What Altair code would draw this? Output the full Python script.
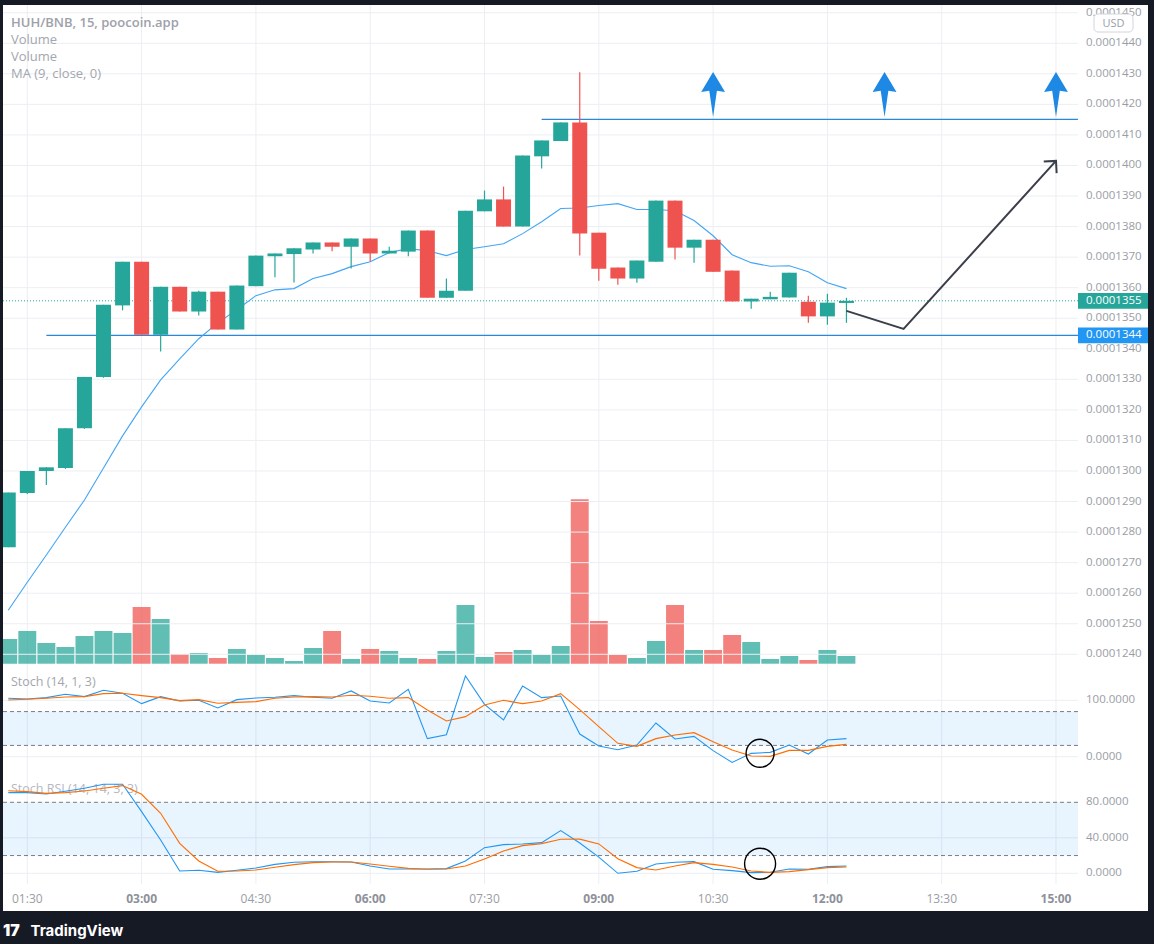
import altair as alt
import pandas as pd

# ---------------- values (prices in units of 1e-7 BNB) ----------------
first_bar = "01:15"
bar_step_min = 15

opens  = [1275.0, 1292.8, 1300.0, 1301.0, 1314.0, 1330.8, 1354.2, 1368.5, 1344.6, 1360.3,
          1352.2, 1358.7, 1346.3, 1360.5, 1370.3, 1371.0, 1372.5, 1374.8, 1373.4, 1376.1,
          1371.2, 1371.8, 1378.7, 1356.7, 1359.0, 1385.0, 1388.9, 1380.0, 1403.0, 1408.0,
          1414.1, 1378.0, 1366.6, 1363.0, 1368.5, 1388.5, 1373.1, 1375.7, 1365.6, 1355.5,
          1356.2, 1356.8, 1355.4, 1350.6, 1355.0]
highs  = [1293.0, 1300.0, 1301.2, 1314.0, 1330.8, 1354.4, 1368.5, 1368.5, 1360.3, 1360.3,
          1359.0, 1358.7, 1360.7, 1370.5, 1371.2, 1372.9, 1374.8, 1374.8, 1376.1, 1376.1,
          1373.4, 1378.7, 1378.7, 1363.0, 1385.2, 1391.8, 1393.1, 1403.3, 1408.2, 1414.1,
          1430.5, 1378.0, 1366.6, 1368.9, 1388.5, 1388.5, 1375.7, 1375.7, 1365.6, 1356.4,
          1358.7, 1364.9, 1357.4, 1358.0, 1356.7]
lows   = [1275.0, 1292.5, 1295.4, 1300.7, 1313.8, 1330.5, 1352.6, 1344.6, 1339.1, 1352.2,
          1350.9, 1346.3, 1346.3, 1360.5, 1363.4, 1361.7, 1371.2, 1371.9, 1366.3, 1368.6,
          1371.2, 1370.3, 1356.7, 1356.7, 1359.0, 1385.0, 1380.0, 1380.0, 1399.0, 1408.0,
          1370.5, 1362.3, 1361.0, 1361.6, 1368.5, 1369.2, 1368.2, 1365.2, 1355.5, 1353.1,
          1356.2, 1356.8, 1348.5, 1347.9, 1348.5]
closes = [1293.0, 1300.0, 1301.2, 1314.0, 1330.8, 1354.4, 1368.5, 1344.6, 1360.3, 1352.2,
          1358.7, 1346.3, 1360.7, 1370.5, 1371.2, 1372.9, 1374.8, 1373.4, 1376.1, 1371.2,
          1372.1, 1378.7, 1356.7, 1359.0, 1385.2, 1388.9, 1380.0, 1403.3, 1408.2, 1414.1,
          1377.7, 1366.2, 1363.0, 1368.9, 1388.5, 1373.1, 1375.7, 1365.2, 1355.5, 1356.4,
          1357.0, 1364.9, 1350.6, 1355.1, 1355.7]
volumes = [247, 327, 207, 167, 277, 327, 307, 567, 447, 97,
           107, 57, 147, 87, 57, 27, 157, 327, 47, 147,
           127, 57, 47, 127, 587, 67, 117, 137, 87, 177,
           1645, 427, 87, 57, 227, 587, 137, 137, 287, 217,
           47, 77, 37, 137, 77]
ma9 = [1254.4, 1263.6, 1272.5, 1281.6, 1290.5, 1301.0, 1311.5, 1321.0, 1329.8, 1336.7,
       1343.3, 1348.5, 1352.8, 1357.4, 1359.3, 1359.7, 1363.0, 1364.6, 1366.9, 1368.5,
       1371.5, 1372.8, 1372.1, 1370.5, 1372.5, 1373.4, 1374.4, 1377.7, 1381.6, 1385.9,
       1386.1, 1386.9, 1387.5, 1385.6, 1385.6, 1385.2, 1382.0, 1377.0, 1370.8, 1368.2,
       1367.0, 1367.2, 1365.2, 1361.6, 1359.7]
stoch_k = [103.6, 102.4, 104.7, 110.7, 106.5, 117.8, 112.4, 94.1, 106.5, 98.8,
           100.0, 86.4, 101.2, 104.1, 105.3, 108.3, 105.3, 103.6, 116.6, 98.8,
           95.3, 119.5, 32.0, 39.0, 143.2, 92.9, 65.1, 125.4, 104.7, 107.7,
           40.2, 18.9, 12.4, 20.7, 59.8, 31.4, 36.1, 10.7, -10.1, 5.9,
           7.7, 20.7, 4.7, 29.6, 32.0]
stoch_d = [100.6, 101.8, 103.6, 105.9, 106.5, 111.8, 112.4, 108.3, 104.7, 99.4,
           101.2, 94.7, 96.4, 97.6, 103.6, 105.9, 106.5, 105.9, 108.9, 107.1,
           103.6, 104.7, 82.8, 63.3, 71.0, 91.7, 100.0, 94.1, 98.8, 111.8,
           83.4, 53.3, 23.7, 18.3, 32.0, 38.5, 42.6, 26.6, 11.8, 1.2,
           0.6, 11.2, 11.2, 18.3, 21.9]
srsi_k = [90.9, 90.9, 89.4, 92.4, 95.8, 100.3, 100.3, 69.5, 37.6, 2.6,
          3.4, 1.1, 3.4, 6.0, 10.1, 12.4, 13.1, 13.1, 12.8, 8.3,
          4.9, 4.9, 4.9, 5.3, 13.9, 28.9, 32.3, 33.1, 34.6, 48.1,
          34.2, 18.3, 0.0, 2.3, 10.5, 12.4, 13.1, 4.5, 3.0, 0.8,
          1.1, 4.9, 4.5, 7.5, 8.3]
srsi_d = [93.1, 92.0, 90.1, 90.9, 92.8, 95.8, 98.8, 89.0, 67.6, 33.8,
          13.9, 2.3, 2.6, 3.8, 6.8, 9.8, 12.0, 12.8, 12.8, 10.5,
          7.9, 5.6, 4.5, 4.9, 8.3, 16.2, 25.2, 31.2, 33.4, 38.3,
          38.5, 33.1, 16.5, 6.4, 3.8, 8.3, 12.0, 10.1, 7.1, 2.6,
          1.1, 1.9, 4.1, 6.4, 7.1]

price_ticks = [1240, 1250, 1260, 1270, 1280, 1290, 1300, 1310, 1320, 1330, 1340,
               1350, 1360, 1370, 1380, 1390, 1400, 1410, 1420, 1430, 1440, 1450]
time_ticks = ["01:30", "03:00", "04:30", "06:00", "07:30", "09:00", "10:30", "12:00", "13:30", "15:00"]
time_bold = ["03:00", "06:00", "09:00", "12:00", "15:00"]
stoch_ticks = [100, 0]
srsi_ticks = [80, 40, 0]

last_price = 1355.7
support_level = 1344.4
support_from = "01:45"
resistance_level = 1415.1
resistance_from = "08:15"
target_arrow_times = ["10:30", "12:45", "15:00"]
target_arrow_price = 1423.2
path_times = ["12:15", "13:00", "15:00"]
path_prices = [1352.4, 1346.5, 1401.5]
circle_time = "11:07"
stoch_circle_value = 6.0
srsi_circle_value = 10.8

# ---------------- styling ----------------
GREEN, RED = "#26a69a", "#ef5350"
BLUE = "#2196f3"
ORANGE = "#ff6d00"
GRID = "#eceef2"
TXT = "#9a9da6"
FRAME = "#161a25"
FONT = "Open Sans"

X_DOMAIN = [68.5, 977.17]          # minutes since 00:00 across the 1154 px view
PRICE_DOMAIN = [1145.17, 1454.17]
VOL_DOMAIN = [-2803, 6637]
STOCH_DOMAIN = [-332.1, 1341.7]
SRSI_DOMAIN = [-79.66, 984.0]
PLOT_L, PLOT_R = 70.86, 917.3      # left / right edge of the plotting area in minutes


def to_min(s):
    h, m = s.split(":")
    return int(h) * 60 + int(m)


def X(field):
    return alt.X(f"{field}:Q", scale=alt.Scale(domain=X_DOMAIN, nice=False, zero=False), axis=None)


def Yd(field, domain):
    return alt.Y(f"{field}:Q", scale=alt.Scale(domain=domain, nice=False, zero=False), axis=None)


one = pd.DataFrame({"k": [0]})

n = len(opens)
t0 = to_min(first_bar)
bars = pd.DataFrame({
    "t": [t0 + bar_step_min * i for i in range(n)],
    "open": opens, "high": highs, "low": lows, "close": closes,
    "vol": volumes, "ma": ma9, "k": stoch_k, "d": stoch_d, "rk": srsi_k, "rd": srsi_d,
})
bars["dir"] = ["up" if c >= o else "down" for o, c in zip(opens, closes)]
bars["blo"] = bars[["open", "close"]].min(axis=1)
bars["bhi"] = bars[["open", "close"]].max(axis=1)
bars["bx1"] = bars["t"] - 5.9
bars["bx2"] = bars["t"] + 5.9
bars["vx1"] = bars["t"] - 7.05
bars["vx2"] = bars["t"] + 7.05
bars["zero"] = 0

COLOR = alt.Color("dir:N", scale=alt.Scale(domain=["up", "down"], range=[GREEN, RED]), legend=None)

# ---------------- shared grid ----------------
tt = pd.DataFrame({"t": [to_min(s) for s in time_ticks], "label": time_ticks,
                   "bold": [s in time_bold for s in time_ticks]})
vgrid = alt.Chart(tt).mark_rule(color=GRID, strokeWidth=1).encode(
    x=X("t"), y=alt.value(5), y2=alt.value(884))

# ---------------- main price pane ----------------
YP = lambda f: Yd(f, PRICE_DOMAIN)
pt = pd.DataFrame({"p": price_ticks, "label": [f"{p * 1e-7:.7f}" for p in price_ticks],
                   "l": PLOT_L, "r": PLOT_R})
hgrid = alt.Chart(pt).mark_rule(color=GRID, strokeWidth=1).encode(
    x=X("l"), x2=alt.X2("r"), y=YP("p"))
price_labels = alt.Chart(pt).mark_text(align="left", baseline="middle", font=FONT, fontSize=11.5,
                                       color=TXT).encode(x=alt.value(1086), y=YP("p"), text="label:N")

levels = pd.DataFrame({"p": [support_level, resistance_level],
                       "x1": [to_min(support_from), to_min(resistance_from)], "x2": [PLOT_R, PLOT_R]})
level_lines = alt.Chart(levels).mark_rule(color="#2b87dc", strokeWidth=1.2).encode(
    x=X("x1"), x2=alt.X2("x2"), y=YP("p"))

lastdf = pd.DataFrame({"p": [last_price], "l": [PLOT_L], "r": [PLOT_R]})
last_line = alt.Chart(lastdf).mark_rule(color=GREEN, strokeWidth=1, strokeDash=[1, 2]).encode(
    x=X("l"), x2=alt.X2("r"), y=YP("p"))

ma_line = alt.Chart(bars).mark_line(color="#42a5f5", strokeWidth=1.1).encode(x=X("t"), y=YP("ma"))
wicks = alt.Chart(bars).mark_rule(strokeWidth=1.2).encode(
    x=X("t"), y=YP("low"), y2=alt.Y2("high"), color=COLOR)
bodies = alt.Chart(bars).mark_rect().encode(
    x=X("bx1"), x2=alt.X2("bx2"), y=YP("blo"), y2=alt.Y2("bhi"), color=COLOR)

ARROW = "M0,-1L0.53,-0.12L0.17,-0.17L0,1L-0.17,-0.17L-0.53,-0.12Z"
arrows = alt.Chart(pd.DataFrame({"t": [to_min(s) for s in target_arrow_times],
                                 "p": target_arrow_price})).mark_point(
    shape=ARROW, size=2025, filled=True, color="#1e88e5", opacity=1, strokeWidth=0).encode(
    x=X("t"), y=YP("p"))

pathdf = pd.DataFrame({"t": [to_min(s) for s in path_times], "p": path_prices})
path_line = alt.Chart(pathdf).mark_line(color="#3b3f4a", strokeWidth=2).encode(x=X("t"), y=YP("p"))
path_head = alt.Chart(pathdf.tail(1)).mark_point(
    shape="M-1,1L0,0L1,1", size=300, filled=False, color="#3b3f4a", opacity=1,
    strokeWidth=2, angle=42).encode(x=X("t"), y=YP("p"))


def price_box(price, fill):
    d = pd.DataFrame({"lo": [price - 2.6], "hi": [price + 2.6], "p": [price],
                      "label": [f"{int(price) * 1e-7:.7f}"]})
    r = alt.Chart(d).mark_rect(color=fill).encode(
        x=alt.value(1078), x2=alt.value(1148), y=YP("lo"), y2=alt.Y2("hi"))
    t = alt.Chart(d).mark_text(align="left", baseline="middle", font=FONT, fontSize=11.5,
                               color="white").encode(x=alt.value(1086), y=YP("p"), text="label:N")
    return [r, t]


main = alt.layer(hgrid, level_lines, last_line, ma_line, wicks, bodies, arrows, path_line,
                 path_head, price_labels, *price_box(last_price, GREEN), *price_box(support_level, BLUE))

# ---------------- volume ----------------
vol = alt.Chart(bars).mark_rect(opacity=0.73).encode(
    x=X("vx1"), x2=alt.X2("vx2"), y=Yd("zero", VOL_DOMAIN), y2=alt.Y2("vol"), color=COLOR)


# ---------------- oscillator panes ----------------
def osc_pane(domain, kcol, dcol, ticks, circle_val, band=(20, 80)):
    YO = lambda f: Yd(f, domain)
    gdf = pd.DataFrame({"v": [t for t in ticks if t not in band], "l": PLOT_L, "r": PLOT_R})
    grid = alt.Chart(gdf).mark_rule(color=GRID).encode(x=X("l"), x2=alt.X2("r"), y=YO("v"))
    bdf = pd.DataFrame({"lo": [band[0]], "hi": [band[1]], "l": [PLOT_L], "r": [PLOT_R]})
    fill = alt.Chart(bdf).mark_rect(color=BLUE, opacity=0.1).encode(
        x=X("l"), x2=alt.X2("r"), y=YO("lo"), y2=alt.Y2("hi"))
    ddf = pd.DataFrame({"v": list(band), "l": PLOT_L, "r": PLOT_R})
    dashed = alt.Chart(ddf).mark_rule(color="#787b86", strokeDash=[4, 3], strokeWidth=1).encode(
        x=X("l"), x2=alt.X2("r"), y=YO("v"))
    kline = alt.Chart(bars).mark_line(color=BLUE, strokeWidth=1.1).encode(x=X("t"), y=YO(kcol))
    dline = alt.Chart(bars).mark_line(color=ORANGE, strokeWidth=1.1).encode(x=X("t"), y=YO(dcol))
    tdf = pd.DataFrame({"v": ticks, "label": [f"{t:.4f}" for t in ticks]})
    labels = alt.Chart(tdf).mark_text(align="left", baseline="middle", font=FONT, fontSize=11.5,
                                      color=TXT).encode(x=alt.value(1086), y=YO("v"), text="label:N")
    cdf = pd.DataFrame({"t": [to_min(circle_time)], "v": [circle_val]})
    return grid, fill, dashed, kline, dline, labels, cdf, YO


sg, sf, sdash, sk, sd, slab, scdf, YS = osc_pane(STOCH_DOMAIN, "k", "d", stoch_ticks, stoch_circle_value)
s_title = alt.Chart(one).mark_text(text="Stoch (14, 1, 3)", align="left", baseline="middle",
                                   font=FONT, fontSize=12.5, color="#a3a6ae").encode(
    x=alt.value(11), y=alt.value(682))
s_circle = alt.Chart(scdf).mark_point(shape="circle", size=784, filled=False, color="black",
                                      opacity=1, strokeWidth=1.4).encode(x=X("t"), y=YS("v"))
stoch = alt.layer(sg, sf, sdash, s_title, sk, sd, slab, s_circle)

rg, rf, rdash, rk, rd, rlab, rcdf, YR = osc_pane(SRSI_DOMAIN, "rk", "rd", srsi_ticks, srsi_circle_value)
r_title = alt.Chart(one).mark_text(text="Stoch RSI (14, 14, 3, 3)", align="left", baseline="middle",
                                   font=FONT, fontSize=12.5, color="#b5b8bf").encode(
    x=alt.value(11), y=alt.value(789))
r_circle = alt.Chart(rcdf).mark_point(shape="circle", size=961, filled=False, color="black",
                                      opacity=1, strokeWidth=1.4).encode(x=X("t"), y=YR("v"))
srsi = alt.layer(rg, rf, rdash, r_title, rk, rd, rlab, r_circle)


# ---------------- texts, time axis, frame ----------------
def txt(s, x, y, size=13, weight="normal", color="#a3a6ae", align="left"):
    return alt.Chart(one).mark_text(text=s, align=align, baseline="middle", font=FONT, fontSize=size,
                                    fontWeight=weight, color=color).encode(x=alt.value(x), y=alt.value(y))


headers = [txt("HUH/BNB, 15, poocoin.app", 11, 22.5, 13, 600, "#9ea1a9"),
           txt("Volume", 11, 39.5), txt("Volume", 11, 56.5), txt("MA (9, close, 0)", 11, 73.5)]

t_norm = alt.Chart(tt[~tt["bold"]]).mark_text(baseline="middle", font=FONT, fontSize=12,
                                                color=TXT).encode(x=X("t"), y=alt.value(898.5), text="label:N")
t_bold = alt.Chart(tt[tt["bold"]]).mark_text(baseline="middle", font=FONT, fontSize=12, fontWeight="bold",
                                              color="#8e919a").encode(x=X("t"), y=alt.value(898.5), text="label:N")

usd_box = alt.Chart(one).mark_rect(fill="white", stroke="#d1d4dc", strokeWidth=1, cornerRadius=4).encode(
    x=alt.value(1094), x2=alt.value(1133), y=alt.value(14), y2=alt.value(32))
usd_txt = txt("USD", 1113.5, 23.5, 11, "normal", "#9a9da6", "center")


def frame(x1, x2, y1, y2):
    return alt.Chart(one).mark_rect(color=FRAME).encode(
        x=alt.value(x1), x2=alt.value(x2), y=alt.value(y1), y2=alt.value(y2))


frames = [frame(0, 1154, 0, 5), frame(0, 3, 0, 944), frame(1148, 1154, 0, 944), frame(0, 1154, 911, 944)]
logo = [alt.Chart(one).mark_text(text="17", align="left", baseline="middle", font="Inter", fontSize=16,
                                 fontWeight=900, color="white").encode(x=alt.value(3), y=alt.value(930.5)),
        alt.Chart(one).mark_text(text="TradingView", align="left", baseline="middle", font="Inter",
                                 fontSize=15, fontWeight="bold", color="white").encode(
            x=alt.value(30.5), y=alt.value(930.5))]

overlay = alt.layer(*headers, t_norm, t_bold, usd_box, usd_txt, *frames, *logo)

chart = alt.layer(vgrid, vol, main, stoch, srsi, overlay).resolve_scale(y="independent").properties(
    width=1154, height=944, padding=0, background="white",
    autosize=alt.AutoSizeParams(type="none"),
).configure_view(stroke=None)

chart.save("out.html", embed_options={"renderer": "svg", "actions": False})
